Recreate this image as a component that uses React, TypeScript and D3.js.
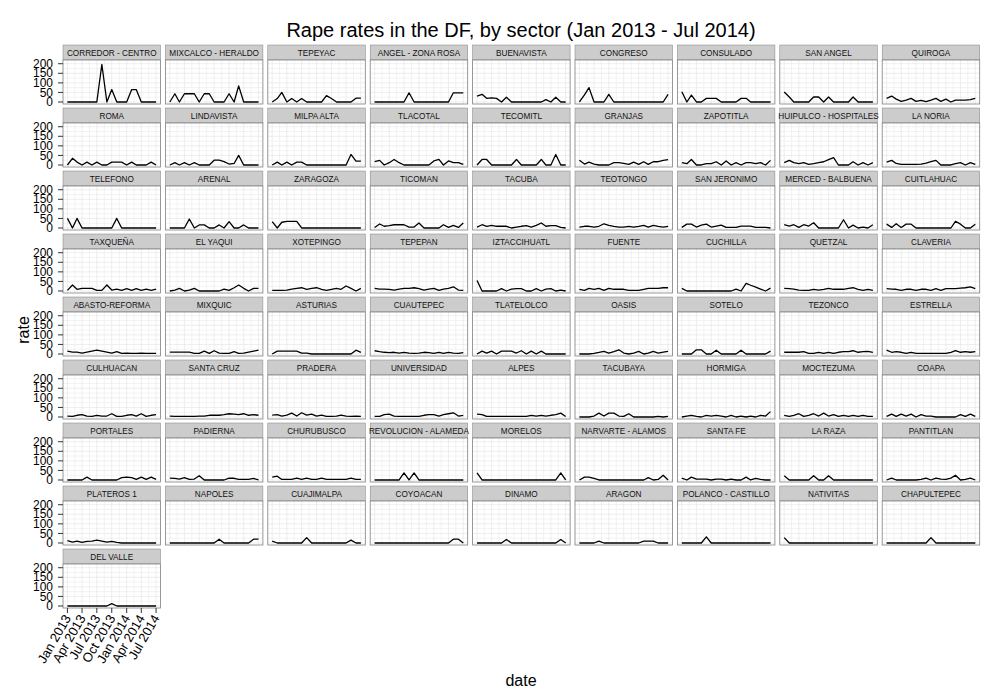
import React from 'react';
import * as d3 from 'd3';

const sectors: string[] = [
  'CORREDOR - CENTRO', 'MIXCALCO - HERALDO', 'TEPEYAC', 'ANGEL - ZONA ROSA', 'BUENAVISTA', 'CONGRESO', 'CONSULADO', 'SAN ANGEL', 'QUIROGA',
  'ROMA', 'LINDAVISTA', 'MILPA ALTA', 'TLACOTAL', 'TECOMITL', 'GRANJAS', 'ZAPOTITLA', 'HUIPULCO - HOSPITALES', 'LA NORIA',
  'TELEFONO', 'ARENAL', 'ZARAGOZA', 'TICOMAN', 'TACUBA', 'TEOTONGO', 'SAN JERONIMO', 'MERCED - BALBUENA', 'CUITLAHUAC',
  'TAXQUEÑA', 'EL YAQUI', 'XOTEPINGO', 'TEPEPAN', 'IZTACCIHUATL', 'FUENTE', 'CUCHILLA', 'QUETZAL', 'CLAVERIA',
  'ABASTO-REFORMA', 'MIXQUIC', 'ASTURIAS', 'CUAUTEPEC', 'TLATELOLCO', 'OASIS', 'SOTELO', 'TEZONCO', 'ESTRELLA',
  'CULHUACAN', 'SANTA CRUZ', 'PRADERA', 'UNIVERSIDAD', 'ALPES', 'TACUBAYA', 'HORMIGA', 'MOCTEZUMA', 'COAPA',
  'PORTALES', 'PADIERNA', 'CHURUBUSCO', 'REVOLUCION - ALAMEDA', 'MORELOS', 'NARVARTE - ALAMOS', 'SANTA FE', 'LA RAZA', 'PANTITLAN',
  'PLATEROS 1', 'NAPOLES', 'CUAJIMALPA', 'COYOACAN', 'DINAMO', 'ARAGON', 'POLANCO - CASTILLO', 'NATIVITAS', 'CHAPULTEPEC',
  'DEL VALLE',
];

const months: string[] = [
  '2013-01', '2013-02', '2013-03', '2013-04', '2013-05', '2013-06', '2013-07', '2013-08', '2013-09', '2013-10',
  '2013-11', '2013-12', '2014-01', '2014-02', '2014-03', '2014-04', '2014-05', '2014-06', '2014-07',
];

// monthly rate per sector, same order as sectors
const rates: number[][] = [
  [0, 0, 0, 0, 0, 0, 0, 196, 0, 65, 0, 0, 0, 65, 65, 0, 0, 0, 0],
  [0, 43, 0, 43, 43, 43, 0, 43, 43, 0, 0, 0, 43, 0, 84, 0, 0, 0, 0],
  [0, 18, 50, 0, 18, 0, 18, 0, 0, 0, 0, 33, 18, 0, 0, 0, 0, 20, 20],
  [0, 0, 0, 0, 0, 0, 0, 48, 0, 0, 0, 0, 0, 0, 0, 0, 48, 48, 48],
  [31, 40, 19, 22, 19, 0, 25, 0, 0, 0, 0, 0, 0, 0, 12, 0, 25, 0, 0],
  [0, 37, 75, 0, 0, 0, 40, 0, 0, 0, 0, 0, 0, 0, 0, 0, 0, 0, 40],
  [54, 0, 36, 0, 0, 19, 19, 19, 0, 0, 0, 0, 19, 19, 0, 0, 0, 0, 0],
  [52, 26, 0, 0, 0, 0, 26, 26, 0, 26, 0, 0, 0, 0, 26, 0, 0, 0, 0],
  [19, 31, 15, 3, 10, 19, 3, 8, 2, 10, 19, 3, 15, 0, 10, 10, 10, 12, 19],

  [0, 35, 15, 0, 15, 0, 15, 0, 0, 15, 15, 15, 0, 15, 0, 0, 0, 15, 0],
  [0, 12, 0, 12, 0, 12, 0, 0, 0, 25, 25, 18, 5, 8, 50, 0, 0, 0, 0],
  [0, 15, 0, 15, 0, 15, 15, 0, 0, 0, 0, 0, 0, 0, 0, 0, 55, 20, 20],
  [17, 24, 0, 12, 29, 12, 0, 0, 0, 0, 0, 0, 21, 29, 0, 21, 12, 12, 3],
  [0, 29, 29, 0, 0, 0, 0, 0, 29, 0, 0, 0, 0, 29, 0, 0, 55, 0, 0],
  [25, 5, 15, 5, 0, 0, 0, 12, 12, 8, 3, 15, 3, 17, 3, 17, 17, 24, 28],
  [12, 7, 29, 0, 0, 7, 7, 17, 0, 21, 0, 12, 0, 12, 12, 7, 12, 0, 24],
  [12, 24, 12, 7, 12, 3, 7, 12, 17, 28, 38, 0, 0, 0, 17, 0, 12, 0, 12],
  [15, 24, 8, 3, 3, 3, 3, 5, 10, 17, 24, 0, 0, 0, 7, 12, 0, 12, 3],

  [50, 0, 50, 0, 0, 0, 0, 0, 0, 0, 50, 0, 0, 0, 0, 0, 0, 0, 0],
  [0, 0, 0, 0, 47, 0, 16, 16, 0, 0, 16, 0, 33, 0, 0, 16, 0, 0, 0],
  [33, 0, 30, 35, 35, 35, 0, 0, 0, 0, 0, 0, 0, 0, 0, 0, 0, 0, 0],
  [3, 21, 9, 12, 17, 17, 17, 5, 5, 26, 0, 0, 0, 0, 17, 3, 14, 3, 26],
  [5, 17, 9, 14, 9, 9, 9, 0, 5, 9, 12, 5, 14, 26, 9, 12, 12, 3, 0],
  [5, 9, 9, 5, 9, 22, 14, 9, 5, 5, 9, 5, 9, 14, 5, 14, 9, 5, 9],
  [3, 20, 20, 5, 15, 20, 5, 10, 15, 3, 3, 3, 10, 10, 10, 3, 3, 3, 0],
  [17, 10, 17, 3, 17, 10, 27, 0, 0, 0, 0, 0, 43, 0, 15, 0, 5, 0, 17],
  [20, 3, 22, 3, 20, 20, 0, 0, 0, 0, 0, 0, 0, 0, 35, 20, 0, 0, 20],

  [3, 31, 9, 14, 14, 14, 3, 3, 31, 5, 10, 3, 12, 3, 12, 3, 10, 3, 10],
  [0, 5, 14, 0, 5, 14, 0, 0, 0, 0, 0, 10, 3, 17, 31, 14, 0, 14, 14],
  [3, 3, 3, 5, 10, 14, 17, 9, 14, 17, 9, 3, 9, 14, 9, 26, 14, 0, 14],
  [14, 10, 10, 8, 5, 10, 14, 14, 17, 12, 5, 10, 14, 3, 10, 14, 22, 5, 3],
  [55, 0, 0, 0, 0, 12, 0, 10, 12, 12, 0, 0, 12, 0, 10, 12, 0, 5, 0],
  [9, 3, 14, 9, 14, 3, 14, 9, 9, 9, 3, 3, 3, 9, 14, 14, 14, 17, 17],
  [14, 0, 0, 0, 0, 0, 0, 0, 0, 0, 0, 10, 0, 40, 30, 20, 10, 0, 15],
  [14, 12, 10, 5, 3, 3, 9, 5, 9, 14, 9, 9, 9, 14, 17, 9, 3, 9, 3],
  [12, 10, 9, 3, 9, 9, 3, 9, 9, 3, 12, 3, 12, 12, 12, 15, 17, 22, 12],

  [15, 10, 10, 5, 10, 15, 20, 15, 10, 5, 12, 3, 5, 3, 3, 5, 3, 3, 3],
  [10, 10, 10, 10, 10, 3, 3, 15, 3, 17, 5, 3, 3, 12, 3, 5, 10, 15, 20],
  [0, 15, 15, 15, 15, 15, 5, 5, 0, 0, 0, 0, 0, 0, 0, 0, 0, 20, 8],
  [17, 12, 9, 7, 9, 5, 9, 5, 3, 5, 9, 7, 3, 9, 3, 9, 5, 3, 7],
  [0, 15, 5, 15, 0, 15, 15, 15, 5, 17, 0, 15, 0, 15, 0, 0, 0, 0, 0],
  [0, 0, 0, 3, 8, 14, 5, 12, 22, 5, 0, 5, 14, 0, 5, 14, 5, 10, 14],
  [0, 0, 0, 22, 22, 0, 0, 20, 0, 0, 0, 0, 20, 0, 0, 0, 0, 0, 15],
  [9, 9, 10, 9, 12, 3, 3, 9, 3, 9, 3, 9, 12, 12, 17, 9, 12, 14, 9],
  [20, 9, 12, 9, 3, 9, 3, 3, 3, 3, 3, 3, 3, 9, 17, 9, 12, 9, 12],

  [5, 3, 9, 12, 5, 3, 9, 5, 5, 17, 3, 3, 9, 12, 5, 17, 3, 9, 12],
  [5, 3, 3, 3, 3, 3, 5, 5, 9, 9, 9, 12, 17, 15, 12, 17, 9, 12, 9],
  [10, 12, 5, 10, 20, 5, 22, 10, 15, 5, 10, 3, 3, 5, 10, 5, 3, 5, 3],
  [3, 3, 12, 15, 5, 3, 3, 3, 3, 3, 9, 12, 12, 5, 12, 17, 22, 5, 9],
  [15, 12, 3, 3, 3, 3, 3, 3, 3, 3, 3, 9, 5, 9, 5, 9, 12, 20, 3],
  [0, 0, 0, 5, 20, 5, 20, 20, 5, 3, 17, 0, 0, 0, 0, 0, 3, 0, 3],
  [0, 5, 9, 3, 0, 9, 5, 9, 5, 0, 9, 0, 5, 0, 5, 0, 9, 5, 28],
  [9, 3, 9, 17, 3, 9, 17, 5, 20, 5, 12, 3, 9, 3, 9, 3, 9, 3, 3],
  [3, 15, 3, 15, 5, 15, 0, 12, 5, 5, 0, 0, 0, 0, 0, 12, 3, 15, 3],

  [0, 0, 0, 0, 15, 0, 0, 0, 0, 0, 0, 12, 15, 12, 3, 15, 3, 15, 3],
  [10, 8, 5, 12, 3, 5, 22, 0, 0, 0, 0, 0, 10, 9, 3, 3, 3, 8, 0],
  [15, 20, 3, 3, 3, 10, 3, 10, 3, 3, 10, 3, 3, 3, 3, 3, 10, 3, 3],
  [0, 0, 0, 0, 0, 0, 37, 0, 37, 0, 0, 0, 0, 0, 0, 0, 0, 0, 0],
  [37, 0, 0, 0, 0, 0, 0, 0, 0, 0, 0, 0, 0, 0, 0, 0, 0, 37, 0],
  [0, 15, 15, 8, 0, 0, 0, 0, 0, 0, 0, 0, 0, 0, 12, 0, 3, 25, 0],
  [10, 0, 15, 5, 5, 5, 0, 5, 5, 0, 5, 0, 0, 15, 0, 8, 3, 0, 0],
  [22, 0, 0, 0, 0, 0, 22, 0, 0, 22, 0, 0, 0, 0, 0, 0, 0, 0, 0],
  [0, 10, 0, 0, 0, 0, 0, 3, 10, 0, 10, 5, 3, 10, 25, 0, 3, 10, 0],

  [12, 5, 10, 3, 8, 10, 15, 10, 5, 8, 3, 0, 0, 0, 0, 0, 0, 0, 0],
  [0, 0, 0, 0, 0, 0, 0, 0, 0, 0, 20, 0, 0, 0, 0, 0, 0, 20, 20],
  [10, 0, 0, 0, 0, 0, 0, 28, 0, 0, 0, 0, 0, 0, 0, 0, 15, 0, 0],
  [0, 0, 0, 0, 0, 0, 0, 0, 0, 0, 0, 0, 0, 0, 0, 0, 20, 20, 0],
  [0, 0, 0, 0, 0, 0, 18, 0, 0, 0, 0, 0, 0, 0, 0, 0, 0, 18, 0],
  [0, 0, 0, 0, 10, 0, 0, 0, 0, 0, 0, 0, 0, 10, 10, 10, 0, 0, 0],
  [0, 0, 0, 0, 0, 32, 0, 0, 0, 0, 0, 0, 0, 0, 0, 0, 0, 0, 0],
  [28, 0, 0, 0, 0, 0, 0, 0, 0, 0, 0, 0, 0, 0, 0, 0, 0, 0, 0],
  [0, 0, 0, 0, 0, 0, 0, 0, 0, 28, 0, 0, 0, 0, 0, 0, 0, 0, 0],

  [0, 0, 0, 0, 0, 0, 0, 0, 0, 12, 0, 0, 0, 0, 0, 0, 0, 0, 0],
];

const xTickDates: string[] = ['2013-01', '2013-04', '2013-07', '2013-10', '2014-01', '2014-04', '2014-07'];
const xTickLabels: string[] = ['Jan 2013', 'Apr 2013', 'Jul 2013', 'Oct 2013', 'Jan 2014', 'Apr 2014', 'Jul 2014'];
const yTicks: number[] = [0, 50, 100, 150, 200];
const yMinor: number[] = [25, 75, 125, 175];

const title = 'Rape rates in the DF, by sector (Jan 2013 - Jul 2014)';

const FONT = '"Liberation Sans", Arial, Helvetica, sans-serif';
const nCol = 9;
const left0 = 63;
const colPitch = 102.4;
const panelW = 97.5;
const top0 = 45;
const rowPitch = 63;
const stripH = 15;
const plotH = 44;

const parse = d3.timeParse('%Y-%m');

export default function App() {
  const dates = months.map((m) => parse(m) as Date);
  const d0 = dates[0].getTime();
  const d1 = dates[dates.length - 1].getTime();
  const pad = (d1 - d0) * 0.05;
  const x = d3.scaleTime().domain([new Date(d0 - pad), new Date(d1 + pad)]).range([0, panelW]);
  const y = d3.scaleLinear().domain([-10.5, 219.5]).range([plotH, 0]);
  const majorX = xTickDates.map((s) => parse(s) as Date);
  const minorX = majorX.slice(0, -1).map((d, i) => new Date((d.getTime() + majorX[i + 1].getTime()) / 2));
  const line = d3.line<number>().x((_, i) => x(dates[i])).y((v) => y(v));

  const nRows = Math.ceil(sectors.length / nCol);

  return (
    <svg width={1000} height={700} style={{ position: 'absolute', left: 0, top: 0, background: '#fff' }} fontFamily={FONT}>
      <rect x={0} y={0} width={1000} height={700} fill="#fff" />
      <text x={521} y={37} textAnchor="middle" fontSize={20}>{title}</text>
      <text x={521} y={686} textAnchor="middle" fontSize={16}>date</text>
      <text transform={`translate(29,330) rotate(-90)`} textAnchor="middle" fontSize={16}>rate</text>
      {sectors.map((name, k) => {
        const r = Math.floor(k / nCol);
        const c = k % nCol;
        const px = left0 + c * colPitch;
        const py = top0 + r * rowPitch;
        const plotTop = py + stripH;
        const showX = r === nRows - 1;
        return (
          <g key={name}>
            <rect x={px} y={py} width={panelW} height={stripH} fill="#CCCCCC" stroke="#7F7F7F" strokeWidth={0.5} />
            <text x={px + panelW / 2} y={py + stripH / 2 + 3} textAnchor="middle" fontSize={8.2} fill="#111">{name}</text>
            <g transform={`translate(${px},${plotTop})`}>
              <rect x={0} y={0} width={panelW} height={plotH} fill="#fff" />
              {minorX.map((d, i) => (
                <line key={'mx' + i} x1={x(d)} x2={x(d)} y1={0} y2={plotH} stroke="#F3F3F3" strokeWidth={1} />
              ))}
              {yMinor.map((v) => (
                <line key={'my' + v} x1={0} x2={panelW} y1={y(v)} y2={y(v)} stroke="#F3F3F3" strokeWidth={1} />
              ))}
              {majorX.map((d, i) => (
                <line key={'Mx' + i} x1={x(d)} x2={x(d)} y1={0} y2={plotH} stroke="#E3E3E3" strokeWidth={0.6} />
              ))}
              {yTicks.map((v) => (
                <line key={'My' + v} x1={0} x2={panelW} y1={y(v)} y2={y(v)} stroke="#E3E3E3" strokeWidth={0.6} />
              ))}
              <path d={line(rates[k]) || ''} fill="none" stroke="#000" strokeWidth={1.3} strokeLinejoin="round" />
              <rect x={0} y={0} width={panelW} height={plotH} fill="none" stroke="#7F7F7F" strokeWidth={0.8} />
              {c === 0 &&
                yTicks.map((v) => (
                  <g key={'yt' + v}>
                    <line x1={-5} x2={0} y1={y(v)} y2={y(v)} stroke="#333" strokeWidth={1} />
                    <text x={-10} y={y(v) + 4.2} textAnchor="end" fontSize={12} fill="#000">{v}</text>
                  </g>
                ))}
              {showX &&
                majorX.map((d, i) => (
                  <g key={'xt' + i}>
                    <line x1={x(d)} x2={x(d)} y1={plotH} y2={plotH + 5} stroke="#333" strokeWidth={1} />
                    <text
                      transform={`translate(${x(d) + 4},${plotH + 10}) rotate(-60)`}
                      textAnchor="end"
                      fontSize={13}
                      fill="#000"
                    >
                      {xTickLabels[i]}
                    </text>
                  </g>
                ))}
            </g>
          </g>
        );
      })}
    </svg>
  );
}
